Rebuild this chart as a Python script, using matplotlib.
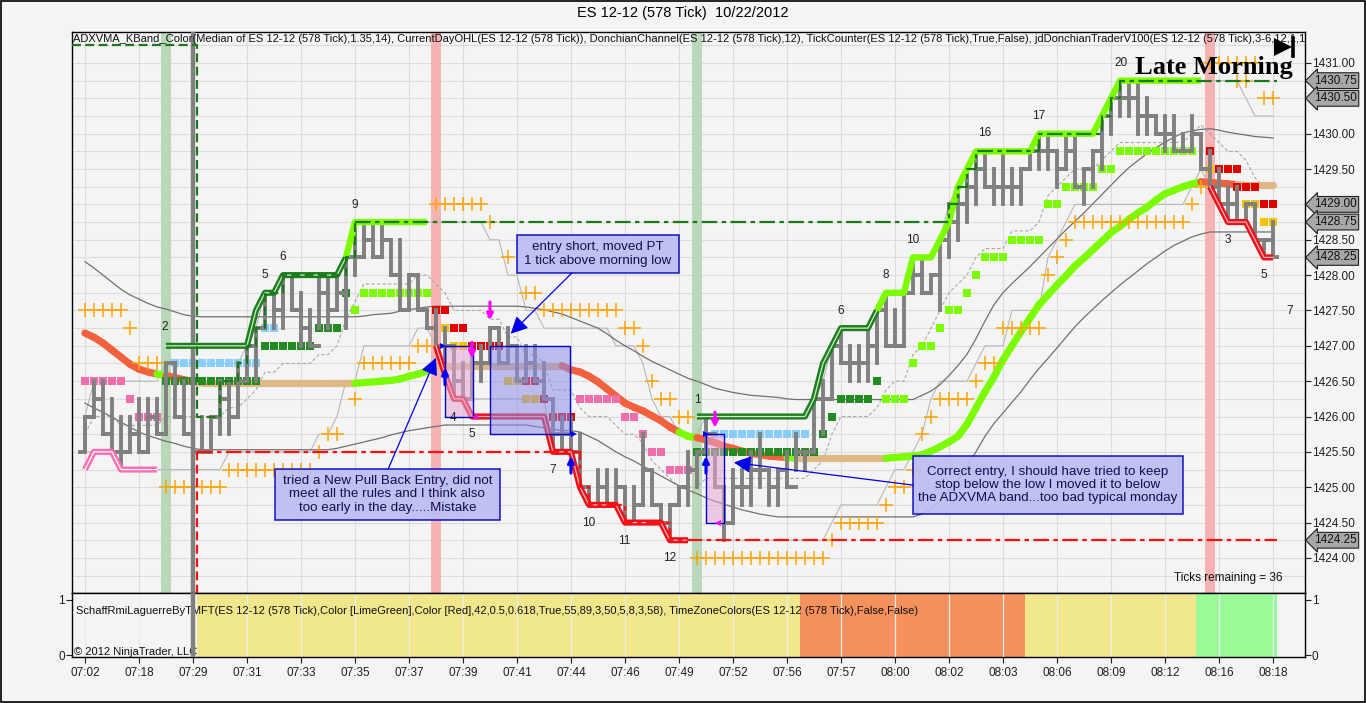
import numpy as np
import pandas as pd
import matplotlib
matplotlib.use("Agg")
import matplotlib.pyplot as plt
import matplotlib.transforms as mtransforms
from matplotlib.collections import LineCollection
from matplotlib.patches import Rectangle

plt.rcParams['font.family'] = ['Liberation Sans', 'DejaVu Sans']

nan = np.nan

# ---------------- price bars (one per 578 tick bar) ----------------
highs = [1426.00, 1426.50, 1426.50, 1426.25, 1426.00, 1426.00, 1426.25, 1426.25, 1426.25, 1426.75,
         1426.75, 1426.50, 1426.25, 1426.00, 1426.00, 1426.50, 1426.50, 1426.75, 1427.00, 1427.25,
         1427.75, 1427.75, 1428.00, 1428.00, 1427.75, 1427.50, 1428.00, 1428.00, 1428.00, 1428.25,
         1428.75, 1428.75, 1428.75, 1428.75, 1428.50, 1428.50, 1428.00, 1428.00, 1427.50, 1427.50,
         1427.25, 1427.00, 1426.75, 1427.00, 1427.00, 1427.25, 1427.25, 1427.25, 1427.00, 1427.00,
         1427.00, 1426.75, 1426.25, 1426.00, 1426.00, 1425.75, 1425.00, 1425.25, 1425.25, 1425.25,
         1425.00, 1425.00, 1425.75, 1425.25, 1424.75, 1424.75, 1425.00, 1425.50, 1425.50, 1426.00,
         1425.50, 1425.00, 1425.25, 1425.25, 1425.50, 1425.75, 1425.25, 1425.25, 1425.50, 1425.75,
         1425.50, 1426.25, 1426.50, 1427.00, 1427.25, 1427.00, 1427.00, 1427.25, 1427.50, 1427.75,
         1427.50, 1427.75, 1428.25, 1428.25, 1428.00, 1428.50, 1429.00, 1429.25, 1429.50, 1429.75,
         1429.75, 1429.50, 1429.75, 1429.50, 1429.50, 1429.75, 1430.00, 1430.00, 1429.75, 1430.00,
         1430.00, 1429.50, 1429.75, 1430.25, 1430.50, 1430.75, 1430.75, 1430.75, 1430.50, 1430.25,
         1430.25, 1430.25, 1430.00, 1430.25, 1430.00, 1429.75, 1429.50, 1429.25, 1429.25, 1429.00,
         1429.00, 1428.50, 1428.75]
lows = [1425.50, 1426.00, 1425.75, 1425.50, 1425.25, 1425.50, 1425.50, 1425.50, 1425.75, 1425.75,
        1426.00, 1425.75, 1425.50, 1425.50, 1425.50, 1425.75, 1425.75, 1426.00, 1426.50, 1426.50,
        1427.25, 1427.25, 1427.25, 1427.50, 1427.00, 1427.00, 1427.25, 1427.25, 1427.50, 1427.25,
        1428.00, 1428.25, 1428.25, 1428.25, 1428.00, 1427.50, 1427.50, 1427.50, 1427.25, 1427.00,
        1426.75, 1426.25, 1426.25, 1426.25, 1426.50, 1426.75, 1426.75, 1426.75, 1426.50, 1426.50,
        1426.50, 1426.25, 1425.50, 1425.50, 1425.50, 1425.00, 1424.75, 1424.75, 1424.75, 1424.75,
        1424.50, 1424.50, 1424.75, 1424.75, 1424.50, 1424.25, 1424.75, 1424.75, 1425.00, 1425.50,
        1425.00, 1424.25, 1424.50, 1424.75, 1424.75, 1425.00, 1424.75, 1424.75, 1425.00, 1425.25,
        1425.25, 1425.50, 1425.75, 1426.25, 1426.75, 1426.50, 1426.50, 1426.50, 1426.75, 1427.00,
        1427.00, 1427.00, 1427.75, 1427.75, 1427.75, 1427.50, 1428.25, 1428.50, 1428.75, 1429.00,
        1429.25, 1429.00, 1429.00, 1429.00, 1429.00, 1429.50, 1429.50, 1429.50, 1429.25, 1429.50,
        1429.25, 1429.00, 1429.25, 1429.50, 1430.00, 1430.25, 1430.25, 1430.00, 1430.00, 1430.00,
        1429.75, 1429.75, 1429.75, 1429.75, 1429.50, 1429.25, 1429.00, 1428.75, 1428.75, 1428.75,
        1428.50, 1428.25, 1428.25]
closes = [1426.00, 1426.25, 1425.75, 1425.50, 1425.50, 1425.75, 1425.50, 1426.00, 1425.75, 1426.75,
          1426.00, 1425.75, 1425.50, 1425.50, 1426.00, 1426.25, 1426.00, 1426.50, 1427.00, 1427.25,
          1427.75, 1427.50, 1428.00, 1427.50, 1427.25, 1427.00, 1427.75, 1427.50, 1427.75, 1428.25,
          1428.25, 1428.50, 1428.25, 1428.50, 1428.00, 1427.50, 1428.00, 1427.50, 1427.25, 1427.00,
          1427.00, 1426.50, 1426.25, 1426.75, 1426.75, 1427.25, 1426.75, 1427.00, 1426.50, 1426.75,
          1426.50, 1426.25, 1425.75, 1425.75, 1425.50, 1425.00, 1424.75, 1425.00, 1424.75, 1425.00,
          1424.50, 1424.75, 1425.25, 1424.75, 1424.50, 1424.75, 1425.00, 1425.25, 1425.50, 1425.75,
          1425.00, 1424.50, 1425.00, 1425.00, 1425.25, 1425.25, 1425.00, 1425.25, 1425.00, 1425.50,
          1425.50, 1426.25, 1426.25, 1427.00, 1426.75, 1426.75, 1426.75, 1427.00, 1427.50, 1427.00,
          1427.00, 1427.75, 1428.00, 1427.75, 1428.00, 1428.50, 1428.75, 1429.00, 1429.25, 1429.50,
          1429.25, 1429.25, 1429.25, 1429.25, 1429.50, 1429.75, 1429.75, 1429.75, 1429.50, 1429.75,
          1429.25, 1429.50, 1429.75, 1430.25, 1430.50, 1430.50, 1430.50, 1430.25, 1430.25, 1430.00,
          1430.00, 1429.75, 1429.75, 1430.00, 1429.50, 1429.25, 1429.00, 1429.00, 1428.75, 1429.00,
          1428.50, 1428.50, 1428.25]
first_open = 1425.50

time_labels = ['07:02', '07:18', '07:29', '07:31', '07:33', '07:35', '07:37', '07:39', '07:41',
               '07:44', '07:46', '07:49', '07:52', '07:56', '07:57', '08:00', '08:02', '08:03',
               '08:06', '08:09', '08:12', '08:16', '08:18']
session_bar = 12
donchian_period = 12

# ---------------- ADXVMA band ----------------
adxvma = ([1427.18, 1427.12, 1427.04, 1426.94, 1426.84, 1426.74, 1426.67, 1426.63, 1426.60, 1426.58,
           1426.55, 1426.52, 1426.49] + [1426.47] * 18 +
          [1426.48, 1426.49, 1426.50, 1426.51, 1426.53, 1426.57, 1426.60, 1426.64, 1426.70] +
          [1426.72] * 14 +
          [1426.66, 1426.63, 1426.57, 1426.49, 1426.39, 1426.29, 1426.19, 1426.13, 1426.08, 1426.01,
           1425.94, 1425.85, 1425.78, 1425.72, 1425.70, 1425.67, 1425.63, 1425.58, 1425.55, 1425.51,
           1425.48, 1425.46, 1425.44, 1425.43, 1425.42, 1425.41] + [1425.41] * 10 +
          [1425.42, 1425.43, 1425.44, 1425.46, 1425.51, 1425.57, 1425.64, 1425.72, 1425.89, 1426.12,
           1426.35, 1426.56, 1426.80, 1427.00, 1427.20, 1427.39, 1427.58, 1427.72, 1427.86, 1427.99,
           1428.13, 1428.24, 1428.36, 1428.48, 1428.60, 1428.69, 1428.79, 1428.88, 1428.96, 1429.06,
           1429.15, 1429.20, 1429.25, 1429.29, 1429.32] +
          [1429.31, 1429.30, 1429.29, 1429.28] + [1429.27] * 4)
adxvma_state = ('r' * 9 + 'g' + 'r' * 3 + 't' * 18 + 'g' * 9 + 't' * 14 + 'r' * 13 + 'g' * 2 +
                'r' * 10 + 'g' + 't' * 10 + 'g' * 35 + 'r' * 4 + 't' * 4)

kband_upper = ([1428.19, 1428.10, 1428.00, 1427.90, 1427.80, 1427.72, 1427.66, 1427.60, 1427.55,
                1427.52, 1427.48, 1427.44, 1427.42] + [1427.41] * 18 +
               [1427.42, 1427.44, 1427.45, 1427.46, 1427.49, 1427.51, 1427.53, 1427.55] +
               [1427.56] * 10 +
               [1427.55, 1427.53, 1427.51, 1427.48, 1427.45, 1427.40, 1427.35, 1427.30, 1427.25] +
               [1427.17, 1427.08, 1427.00, 1426.93, 1426.85, 1426.78, 1426.72, 1426.66, 1426.60,
                1426.54, 1426.50, 1426.45, 1426.40, 1426.37, 1426.34, 1426.32, 1426.30, 1426.29,
                1426.28, 1426.27, 1426.25] + [1426.24] * 14 +
               [1426.30, 1426.36, 1426.45, 1426.58, 1426.72, 1426.88, 1427.10, 1427.35, 1427.58,
                1427.75, 1427.88, 1428.00, 1428.12, 1428.25, 1428.38, 1428.51, 1428.64, 1428.76,
                1428.88, 1429.01, 1429.14, 1429.27, 1429.40, 1429.52, 1429.62, 1429.72, 1429.80,
                1429.88, 1429.95, 1430.01, 1430.04, 1430.06, 1430.07, 1430.05, 1430.02, 1430.00,
                1429.98, 1429.96, 1429.95, 1429.94])
kband_lower = ([1426.19, 1426.12, 1426.06, 1425.99, 1425.92, 1425.85, 1425.78, 1425.73, 1425.69,
                1425.65, 1425.62, 1425.58, 1425.55] + [1425.53] * 15 +
               [1425.55, 1425.58, 1425.61, 1425.64, 1425.67, 1425.70, 1425.74, 1425.77, 1425.80,
                1425.82, 1425.84, 1425.86, 1425.88] + [1425.88] * 9 +
               [1425.86, 1425.84, 1425.82, 1425.80, 1425.80, 1425.78, 1425.72, 1425.66, 1425.58,
                1425.50, 1425.43, 1425.37, 1425.30, 1425.23, 1425.16, 1425.09, 1425.02, 1424.96,
                1424.91, 1424.85, 1424.80, 1424.76, 1424.72, 1424.68, 1424.65, 1424.62, 1424.60] +
               [1424.58] * 16 +
               [1424.62, 1424.70, 1424.80, 1424.95, 1425.10, 1425.30, 1425.50, 1425.72, 1425.90,
                1426.05, 1426.20, 1426.35, 1426.52, 1426.68, 1426.82, 1426.97, 1427.12, 1427.27,
                1427.40, 1427.52, 1427.64, 1427.75, 1427.86, 1427.96, 1428.06, 1428.16, 1428.25,
                1428.34, 1428.42, 1428.48, 1428.54, 1428.58, 1428.61] + [1428.61] * 7)

# ---------------- Donchian trader step lines ----------------
dt_upper = ([nan] * 9 + [1427.0] * 10 + [1427.5, 1427.75, 1427.75] + [1428.0] * 7 + [1428.25] +
            [1428.75] * 9 + [nan] * 29 + [1426.0] * 13 + [1426.25, 1426.75, 1427.0] + [1427.25] * 4 +
            [1427.5] + [1427.75] * 3 + [1428.25] * 3 + [1428.5, 1428.75, 1429.25, 1429.5] +
            [1429.75] * 7 + [1430.0] * 7 + [1430.25, 1430.5] + [1430.75] * 10 + [nan] * 8)
dt_lower = ([nan] * 39 + [1427.0, 1426.6, 1426.25, 1426.25] + [1426.0] * 9 + [1425.5] * 3 + [1425.0] +
            [1424.75] * 4 + [1424.5] * 5 + [1424.25] * 3 + [nan] * 57 +
            [1429.25, 1429.0, 1428.75, 1428.75, 1428.75, 1428.5, 1428.25, 1428.25])
dt_pink = [1425.25, 1425.5, 1425.5, 1425.5, 1425.25, 1425.25, 1425.25, 1425.25, 1425.25]

# current day high / low (bar where level starts, level)
day_high_bars = [-1.44, 12.4, 15, 17, 18, 19, 20, 22, 29, 30, 96, 97, 98, 99, 106, 113, 114, 115, 132.5]
day_high_vals = [1431.25, 1426.0, 1426.5, 1426.75, 1427.0, 1427.25, 1427.75, 1428.0, 1428.25, 1428.75,
                 1429.0, 1429.25, 1429.5, 1429.75, 1430.0, 1430.25, 1430.5, 1430.75, 1430.75]
day_low_bars = [12.4, 55, 56, 60, 65, 132.5]
day_low_vals = [1425.5, 1425.0, 1424.75, 1424.5, 1424.25, 1424.25]

# ---------------- dots ----------------
pink_sq_bars = [0, 1, 2, 3, 4, 5, 6, 7, 8, 55, 56, 57, 58, 59, 60, 61, 62, 63, 64, 65, 66, 67]
pink_sq_px = ([1426.5] * 5 + [1426.25] + [1426.0] * 3 + [1426.25] * 5 + [1426.0] * 2 + [1425.75] +
              [1425.5] * 2 + [1425.25] * 3)
blue_sq_bars = list(range(10, 22)) + list(range(70, 81))
blue_sq_px = [1426.75] * 10 + [1427.25] * 2 + [1425.75] * 11
dkgreen_sq_bars = list(range(9, 30)) + list(range(68, 89))
dkgreen_sq_px = ([1426.5] * 11 + [1427.0] * 6 + [1427.25] * 3 + [1427.75] + [1425.5] * 14 +
                 [1425.75, 1426.0, 1426.25, 1426.25, 1426.25, 1426.25, 1426.5])
lime_sq_bars = list(range(30, 39)) + list(range(89, 124))
lime_sq_px = ([1427.5] + [1427.75] * 8 + [1426.25] * 3 + [1426.75] + [1427.0] * 2 + [1427.25] +
              [1427.5] * 2 + [1427.75] + [1428.0] + [1428.25] * 3 + [1428.5] * 4 + [1429.0] * 2 +
              [1429.25] * 4 + [1429.5] * 2 + [1429.75] * 9)
red_sq_bars = [39, 40, 41, 42, 43, 44, 45, 46, 49, 50, 51, 52, 53, 54,
               125, 126, 127, 128, 128, 129, 130, 131, 132]
red_sq_px = [1427.5, 1427.5, 1427.25, 1427.25, 1427.0, 1427.0, 1427.0, 1427.0, 1426.5, 1426.5,
             1426.25, 1426.0, 1426.0, 1426.0, 1429.75, 1429.5, 1429.5, 1429.5, 1429.25, 1429.25,
             1429.25, 1429.0, 1429.0]
gold_sq_bars = [40, 41, 42, 47, 48, 49, 50, 125, 129, 130, 131, 132]
gold_sq_px = [1427.25, 1427.0, 1427.0, 1426.5, 1426.5, 1426.25, 1426.25, 1429.5, 1429.0, 1429.0,
              1428.75, 1428.75]

cross_bars = (list(range(0, 29)) + [30] + list(range(31, 46)) + [47] + list(range(49, 125)) +
              list(range(125, 131)) + [128, 129, 131, 132])
cross_px = ([1427.5] * 5 + [1427.25] + [1426.75] * 3 + [1425.0] * 7 + [1425.25] * 10 + [1425.5] +
            [1425.75] * 2 +
            [1426.25] +
            [1426.75] * 6 + [1427.0] * 2 + [1429.0] * 6 + [1428.75] +
            [1428.25] +
            [1427.75] * 2 + [1427.5] * 9 + [1427.25] * 2 + [1427.0] + [1426.5] + [1426.25] * 2 +
            [1426.0] * 2 + [1424.0] * 15 + [1424.25] + [1424.5] * 5 + [1424.75] + [1425.0] * 2 +
            [1425.25] + [1425.75] + [1426.0] + [1426.25] * 4 + [1426.5] + [1426.75] * 2 +
            [1427.25] * 5 + [1428.0] + [1428.25] + [1428.5] + [1428.75] * 13 + [1429.0] + [1429.25] +
            [1431.0] * 6 + [1430.75] * 2 + [1430.5] * 2)

# signal bars highlighted
band_bars = [9, 39, 68, 125]
band_colors = ['#b9d8b9', '#f5b3b3', '#b9d8b9', '#f5b3b3']

# trade boxes (bar from, bar to, price top, price bottom)
trade_left = [40.0, 45.0, 69.0]
trade_right = [43.1, 53.9, 71.0]
trade_top = [1427.0, 1427.0, 1425.75]
trade_bottom = [1426.0, 1425.75, 1424.5]
trade_fill = ['#e4a6d6', '#8e8ee6', '#e4a6d6']

swing_bars = [8.9, 20, 22, 30, 40.9, 43, 52, 56, 59.9, 65, 68, 84, 89, 92, 100, 106, 115.1, 127, 131, 133.9]
swing_px = [1427.27, 1428.0, 1428.26, 1428.99, 1425.98, 1425.75, 1425.24, 1424.49, 1424.24, 1424.0,
            1426.23, 1427.49, 1428.0, 1428.5, 1430.01, 1430.25, 1431.0, 1428.5, 1428.0, 1427.49]
swing_text = ['2', '5', '6', '9', '4', '5', '7', '10', '11', '12', '1', '6', '8', '10', '16', '17',
              '20', '3', '5', '7']

notes = ["entry short, moved PT\n1 tick above morning low",
         "tried a New Pull Back Entry, did not\nmeet all the rules and I think also\ntoo early in the day.....Mistake",
         "Correct entry, I should have tried to keep\nstop below the low I moved it to below\nthe ADXVMA band...too bad typical monday"]
note_box = [(48.0, 66.0, 1428.03, 1428.57), (21.1, 46.1, 1424.54, 1425.26), (92.0, 122.0, 1424.62, 1425.44)]
note_from = [(54.1, 1428.03), (33.7, 1425.26), (92.0, 1425.03)]
note_to = [(47.3, 1427.17), (39.0, 1426.83), (72.1, 1425.35)]

marker_prices = [1430.75, 1430.50, 1429.00, 1428.75, 1428.25, 1424.25]

zone_start = [12.5, 79.5, 104.5, 123.5]
zone_end = [79.5, 104.5, 123.5, 132.5]
zone_colors = ['#f0e68c', '#f5915c', '#f0e68c', '#98fb98']

# ---------------- figure ----------------
W, H = 1366, 703
BG = '#f4f4f4'
fig = plt.figure(figsize=(W / 100, H / 100), dpi=100, facecolor=BG)
ax = fig.add_axes([72 / W, 1 - 593 / H, 1233 / W, 561 / H], facecolor=BG)
ax2 = fig.add_axes([72 / W, 1 - 657 / H, 1233 / W, 64 / H], facecolor=BG)

n = len(closes)
idx = np.arange(n)
opens = [first_open] + closes[:-1]
xlim = (-1.44, 135.56)
ax.set_xlim(*xlim)
ax.set_ylim(1423.504, 1431.438)
ax2.set_xlim(*xlim)
ax2.set_ylim(-0.036, 1.127)

tick_bars = np.arange(0, n, 6)
grid_c = '#dcdcdc'
ax.hlines(np.arange(1423.5, 1431.5, 0.25), *xlim, color=grid_c, lw=0.8, zorder=0)
ax.vlines(tick_bars, 1423.0, 1432.0, color=grid_c, lw=0.8, zorder=0)

for b, c in zip(band_bars, band_colors):
    ax.axvspan(b - 0.55, b + 0.55, color=c, lw=0, zorder=1)

# Donchian channel (12)
dc_up = pd.Series(highs).rolling(donchian_period, min_periods=1).max()
dc_lo = pd.Series(lows).rolling(donchian_period, min_periods=1).min()
ax.plot(idx, dc_up, color='#b8b8b8', lw=0.8, zorder=2)
ax.plot(idx, dc_lo, color='#b8b8b8', lw=0.8, zorder=2)
ax.plot(idx, (dc_up + dc_lo) / 2, color='#a8a8a8', lw=0.8, dashes=(3, 2), zorder=2)

ax.plot(idx, kband_upper, color='#707070', lw=0.9, zorder=2)
ax.plot(idx, kband_lower, color='#707070', lw=0.9, zorder=2)

# ADXVMA colored thick line
state_col = {'r': '#f2603e', 'g': '#7cfc00', 't': '#deb887'}
segs = [[(i - 1, adxvma[i - 1]), (i, adxvma[i])] for i in range(1, n)]
cols = [state_col[adxvma_state[i]] for i in range(1, n)]
ax.add_collection(LineCollection(segs, colors=cols, linewidths=5.2, capstyle='round', zorder=3))

ms = 5.2
for bx, px, c in [(pink_sq_bars, pink_sq_px, '#f06eaa'), (blue_sq_bars, blue_sq_px, '#87cefa'),
                  (dkgreen_sq_bars, dkgreen_sq_px, '#228b22'), (lime_sq_bars, lime_sq_px, '#7cfc00'),
                  (red_sq_bars, red_sq_px, '#e00000'), (gold_sq_bars, gold_sq_px, '#f5c400')]:
    ax.plot(bx, px, 's', color=c, ms=ms, mew=0, zorder=4)
ax.plot(cross_bars, cross_px, '+', color='#ffa500', ms=10.5, mew=1.1, zorder=4)

# price bars
bar_segs = []
for i in idx:
    bar_segs.append([(i, lows[i]), (i, highs[i])])
    bar_segs.append([(i - 0.5, opens[i]), (i, opens[i])])
    bar_segs.append([(i, closes[i]), (i + 0.5, closes[i])])
ax.add_collection(LineCollection(bar_segs, colors='#808080', linewidths=2.8, capstyle='projecting', zorder=6))

# session break
for a in (ax, ax2):
    a.axvline(session_bar, color='#808080', lw=3.2, zorder=6)

# Donchian trader lines
up = np.array(dt_upper)
ax.plot(idx[9:30], up[9:30], color='#1f7d1f', lw=4.4, zorder=7, solid_capstyle='butt')
ax.plot(idx[9:30], up[9:30], color='#c8f0c8', lw=0.9, zorder=7)
ax.plot(idx[68:89], up[68:89], color='#1f7d1f', lw=4.4, zorder=7, solid_capstyle='butt')
ax.plot(idx[68:89], up[68:89], color='#c8f0c8', lw=0.9, zorder=7)
ax.plot(idx[29:39], up[29:39], color='#7cfc00', lw=4.6, zorder=7, solid_capstyle='butt')
ax.plot(idx[88:125], up[88:125], color='#7cfc00', lw=4.6, zorder=7, solid_capstyle='butt')
ax.plot(idx, dt_lower, color='#e8101a', lw=4.4, zorder=7, solid_capstyle='butt')
ax.plot(idx, dt_lower, color='#ffb0b8', lw=0.9, zorder=7)
ax.plot(idx[:9], dt_pink, color='#ff6eb4', lw=4.4, zorder=7, solid_capstyle='butt')
ax.plot(idx[:9], dt_pink, color='#ffffff', lw=0.9, zorder=7)

# current day high / low
ax.plot(day_high_bars[:10], day_high_vals[:10], drawstyle='steps-post', color='#1a7a1a', lw=1.6,
        dashes=(4, 2), zorder=8)
ax.plot([30] + day_high_bars[10:], [1428.75] + day_high_vals[10:], drawstyle='steps-post',
        color='#1a7a1a', lw=1.6, dashes=(7, 2, 2, 2), zorder=8)
ax.plot(day_low_bars, day_low_vals, drawstyle='steps-post', color='#ff1010', lw=1.6,
        dashes=(7, 2, 2, 2), zorder=8)
ax.plot([day_low_bars[0]] * 2, [1423.3, day_low_vals[0]], color='#ff1010', lw=1.6, dashes=(4, 2), zorder=8)

# trade boxes
for l, r, t, b, c in zip(trade_left, trade_right, trade_top, trade_bottom, trade_fill):
    ax.add_patch(Rectangle((l, b), r - l, t - b, facecolor=c, alpha=0.55, edgecolor='none', zorder=8))
    ax.add_patch(Rectangle((l, b), r - l, t - b, facecolor='none', edgecolor='#0000cc', lw=1, zorder=8))

# small trade arrows
arrow_kw = dict(arrowstyle='-|>', mutation_scale=9, lw=2.2, shrinkA=0, shrinkB=0)
for x, p0, p1, c in [(45, 1427.62, 1427.36, '#ff00ff'), (43, 1427.05, 1426.82, '#ff00ff'),
                     (70, 1426.06, 1425.84, '#ff00ff'), (40, 1426.45, 1426.69, '#0000ff'),
                     (54, 1425.20, 1425.44, '#0000ff'), (69, 1425.20, 1425.44, '#0000ff')]:
    ax.annotate('', xy=(x, p1), xytext=(x, p0), arrowprops=dict(color=c, **arrow_kw), zorder=9)
ax.plot([43.3, 70.3], [1426.0, 1424.5], '<', color='#ff00ff', ms=5, mew=0, zorder=9)
ax.plot([39.8, 54.3, 69.0], [1427.0, 1425.75, 1425.75], '>', color='#0000ff', ms=5, mew=0, zorder=9)

# notes
for txt, (l, r, b, t), src, dst in zip(notes, note_box, note_from, note_to):
    ax.add_patch(Rectangle((l, b), r - l, t - b, facecolor='#bcbcf2', edgecolor='#0000c0', lw=1.1,
                           alpha=0.92, zorder=10))
    ax.text((l + r) / 2, (b + t) / 2, txt, ha='center', va='center', fontsize=9.6, color='#101050',
            linespacing=1.15, zorder=11)
    ax.annotate('', xy=dst, xytext=src, zorder=10,
                arrowprops=dict(arrowstyle='-|>', color='#0000ee', lw=0.9, mutation_scale=26,
                                shrinkA=0, shrinkB=0))

for x, p, s in zip(swing_bars, swing_px, swing_text):
    ax.text(x, p, s, ha='center', va='center', fontsize=8.5, color='#202020', zorder=11)

# texts
ax.text(0.001, 0.987, 'ADXVMA_KBand_Color(Median of ES 12-12 (578 Tick),1.35,14), CurrentDayOHL(ES 12-12 (578 Tick)), '
        'DonchianChannel(ES 12-12 (578 Tick),12), TickCounter(ES 12-12 (578 Tick),True,False), '
        'jdDonchianTraderV100(ES 12-12 (578 Tick),3-6,12,1,1)', transform=ax.transAxes, fontsize=8,
        va='center', ha='left', color='#101010', zorder=12, clip_on=True)
ax.text(0.926, 0.936, 'Late Morning', transform=ax.transAxes, fontsize=19, fontweight='bold',
        family=['Liberation Serif', 'DejaVu Serif'], ha='center', va='center', color='black', zorder=12)
ax.plot([0.9825], [0.973], '>', transform=ax.transAxes, color='black', ms=13, mew=0, zorder=12, clip_on=False)
ax.plot([0.9905, 0.9905], [0.957, 0.989], transform=ax.transAxes, color='black', lw=2.6, zorder=12)
ax.text(0.9375, 0.027, 'Ticks remaining = 36', transform=ax.transAxes, fontsize=8.5, ha='center',
        va='center', color='#101010', zorder=12)
fig.text(0.5, 1 - 13 / H, 'ES 12-12 (578 Tick)  10/22/2012', ha='center', va='center', fontsize=10.5)

# right price scale
ax.yaxis.tick_right()
price_ticks = [p for p in np.arange(1424.0, 1431.01, 0.5) if p not in (1430.5, 1429.0)]
ax.set_yticks(price_ticks)
ax.set_yticklabels(['%.2f' % p for p in price_ticks])
ax.tick_params(axis='y', labelsize=8.5, length=4, pad=1, colors='#202020')
ax.set_xticks(tick_bars)
ax.tick_params(axis='x', bottom=False, labelbottom=False)
trans = mtransforms.blended_transform_factory(ax.transAxes, ax.transData)
for p in marker_prices:
    ax.text(1.0 + 9 / 1233, p, '%.2f' % p, transform=trans, ha='left', va='center', fontsize=8.5,
            color='#101010', clip_on=False,
            bbox=dict(boxstyle='larrow,pad=0.16', facecolor='#a8a8a8', edgecolor='#202020', lw=0.8))

# lower panel
for s, e, c in zip(zone_start, zone_end, zone_colors):
    ax2.axvspan(s, e, color=c, lw=0, zorder=0)
ax2.vlines(tick_bars, -1, 2, color='#ececec', lw=0.9, zorder=1)
ax2.set_yticks([0, 1])
ax2.tick_params(axis='y', left=True, right=True, labelleft=True, labelright=True, labelsize=8.5,
                length=4, pad=1, colors='#202020')
ax2.set_xticks(tick_bars)
ax2.set_xticklabels(time_labels)
ax2.tick_params(axis='x', labelsize=8.5, length=4, pad=3, colors='#202020')
ax2.text(0.003, 0.72, 'SchaffRmiLaguerreByTMFT(ES 12-12 (578 Tick),Color [LimeGreen],Color [Red],42,0.5,'
         '0.618,True,55,89,3,50,5,8,3,58), TimeZoneColors(ES 12-12 (578 Tick),False,False)',
         transform=ax2.transAxes, fontsize=8, va='center', ha='left', color='#101010')
ax2.text(0.002, 0.08, '\u00a9 2012 NinjaTrader, LLC', transform=ax2.transAxes, fontsize=8,
         va='center', ha='left', color='#101010')

for a in (ax, ax2):
    for sp in a.spines.values():
        sp.set_color('black')
        sp.set_linewidth(1.0)

fig.patches.append(Rectangle((0.001, 0.002), 0.998, 0.996, transform=fig.transFigure, fill=False,
                             edgecolor='black', lw=1.2))

fig.savefig('out.png', dpi=100, facecolor=BG)
